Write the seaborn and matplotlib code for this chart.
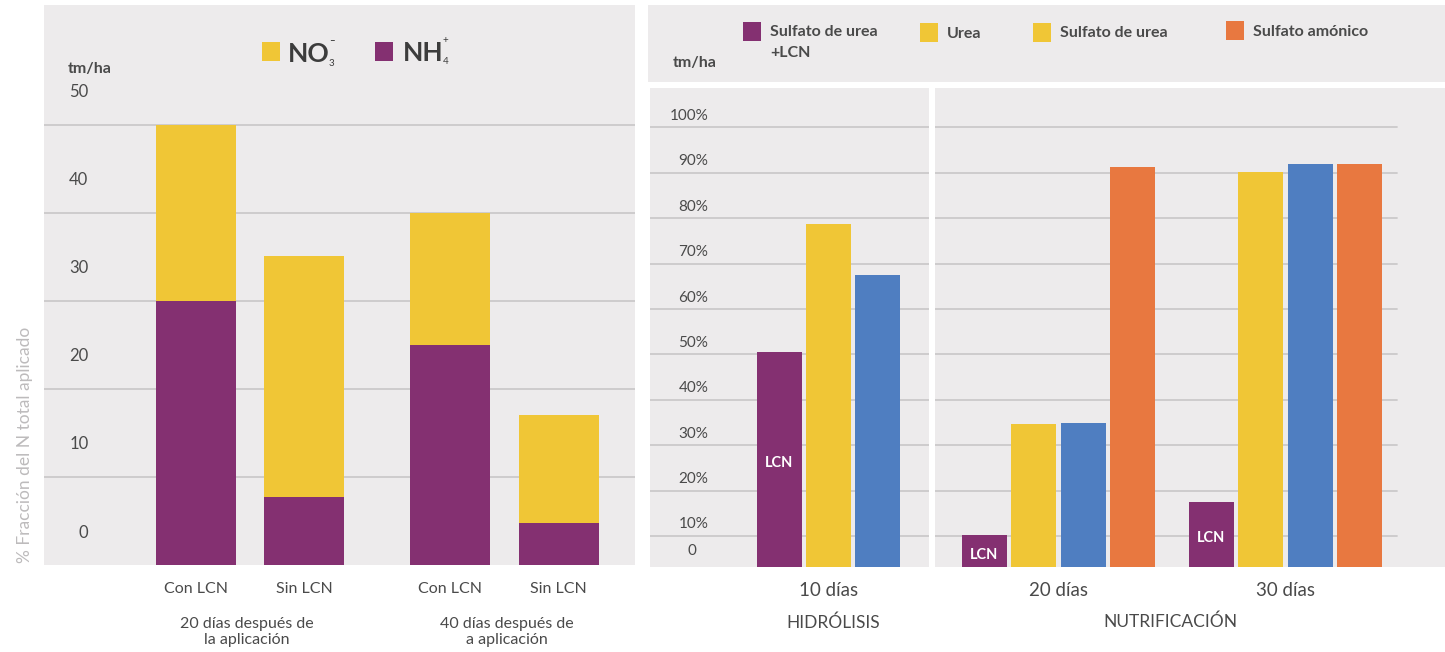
import numpy as np
import pandas as pd
import matplotlib.pyplot as plt
import seaborn as sb
from matplotlib.patches import Rectangle
from matplotlib.transforms import ScaledTranslation

# left chart: N fractions (tm/ha)
conditions = ["Con LCN", "Sin LCN", "Con LCN", "Sin LCN"]
positions = [0, 1, 2.35, 3.36]
nh4 = [30, 7.7, 25, 4.8]
no3 = [20, 27.4, 15, 12.2]
groupLabels = ["20 días después de\nla aplicación", "40 días después de\na aplicación"]
leftTicks = [0, 10, 20, 30, 40, 50]

# right chart: hydrolysis / nitrification (%)
products = ["Sulfato de urea +LCN", "Urea", "Sulfato de urea", "Sulfato amónico"]
legendNames = ["Sulfato de urea\n+LCN", "Urea", "Sulfato de urea", "Sulfato amónico"]
hydroDays = ["10 días"]
hydroValues = [50.5, 78.7, 67.5]
nitriDays = ["20 días", "30 días"]
nitri20 = [10.2, 34.7, 34.9, 91.3]
nitri30 = [17.5, 90.2, 91.9, 91.9]
pctTicks = [10, 20, 30, 40, 50, 60, 70, 80, 90, 100]

PURPLE = "#843071"
YELLOW = "#F0C636"
BLUE = "#4F7EC1"
ORANGE = "#E87840"
BG = "#EDEBEC"
GRID = "#CBC9CA"
TXT = "#4A4A4A"
palette = dict(zip(products, [PURPLE, YELLOW, BLUE, ORANGE]))
legendColors = [PURPLE, YELLOW, YELLOW, ORANGE]   # as printed in the original key

sb.set_theme(style="white")
plt.rcParams["font.family"] = ["Lato", "DejaVu Sans"]

W, H = 1445, 652
fig = plt.figure(figsize=(W / 100, H / 100), dpi=100)


def box(x0, y0, x1, y1):
  return [x0 / W, 1 - y1 / H, (x1 - x0) / W, (y1 - y0) / H]


def ftext(x, y, s, **kw):
  fig.text(x / W, 1 - y / H, s, **kw)


def swatch(x, y, color, w=18, h=19):
  fig.add_artist(Rectangle((x / W, 1 - (y + h) / H), w / W, h / H,
                           transform=fig.transFigure, facecolor=color, edgecolor="none"))


def styleAxis(ax, ticks, labels, dy, pad, size):
  ax.set_facecolor(BG)
  for s in ax.spines.values():
    s.set_visible(False)
  ax.set_yticks(ticks, labels)
  ax.tick_params(axis="y", length=0, pad=pad, labelsize=size, labelcolor=TXT)
  for lab in ax.get_yticklabels():
    lab.set_horizontalalignment("right")
    lab.set_transform(lab.get_transform() + ScaledTranslation(0, dy / 100, fig.dpi_scale_trans))
  ax.set_xlabel("")
  ax.set_ylabel("")


# ---- left panel ----
axL = fig.add_axes(box(44, 5, 635, 565))
dfLeft = pd.DataFrame({"pos": positions, "NH4": nh4, "total": np.add(nh4, no3)})
sb.barplot(data=dfLeft, x="pos", y="total", native_scale=True, width=0.74,
           color=YELLOW, saturation=1, linewidth=0, ax=axL)
sb.barplot(data=dfLeft, x="pos", y="NH4", native_scale=True, width=0.74,
           color=PURPLE, saturation=1, linewidth=0, ax=axL)
axL.set_xlim(-1.407, 4.065)
axL.set_ylim(0, 63.6)
for v in leftTicks[1:]:
  axL.axhline(v, color=GRID, lw=1.3, zorder=0)
styleAxis(axL, leftTicks, [str(v) for v in leftTicks], 34, -32, 12)
axL.set_xticks(positions, conditions)
axL.tick_params(axis="x", length=0, pad=12, labelsize=11.5, labelcolor=TXT)

ftext(247, 632, groupLabels[0], ha="center", va="center", fontsize=11.5, color=TXT)
ftext(507, 632, groupLabels[1], ha="center", va="center", fontsize=11.5, color=TXT)
ftext(90, 69, "tm/ha", ha="center", va="center", fontsize=11.5, fontweight="bold", color=TXT)
ftext(25, 445, "% Fracción del N total aplicado", ha="center", va="center",
      rotation=90, fontsize=12.5, color="#BDBBBC")

# ion key (charge above, index below, as in the print)
ION = "#3C3C3C"
swatch(262, 42, YELLOW)
ftext(288, 54, "NO", ha="left", va="center", fontsize=19, fontweight="bold", color=ION)
ftext(329, 41, "–", ha="left", va="center", fontsize=7, fontweight="bold", color=ION)
ftext(329, 63, "3", ha="left", va="center", fontsize=7, color=ION)
swatch(375, 42, PURPLE)
ftext(403, 53, "NH", ha="left", va="center", fontsize=19, fontweight="bold", color=ION)
ftext(442, 41, "+", ha="left", va="center", fontsize=7, color=ION)
ftext(443, 62, "4", ha="left", va="center", fontsize=7, color=ION)

# ---- right panels ----
fig.add_artist(Rectangle((648 / W, 1 - 82 / H), (W - 648) / W, 77 / H,
                         transform=fig.transFigure, facecolor=BG, edgecolor="none"))
ftext(695, 63, "tm/ha", ha="center", va="center", fontsize=11.5, fontweight="bold", color=TXT)
legendPos = [(743, 22, 34), (920, 23, 34), (1033, 23, 33), (1226, 21, 32)]
for (x, y, ty), name, col in zip(legendPos, legendNames, legendColors):
  swatch(x, y, col)
  va = "top" if "\n" in name else "center"
  ftext(x + 27, ty - 9 if va == "top" else ty, name, ha="left", va=va,
        fontsize=11.5, fontweight="bold", color=TXT, linespacing=1.6)

yLow, yHigh = 3.17, 108.7

ax1 = fig.add_axes(box(650, 88, 929, 567))
dfHydro = pd.DataFrame({"dia": hydroDays * 3, "producto": products[:3], "valor": hydroValues})
sb.barplot(data=dfHydro, x="dia", y="valor", hue="producto", hue_order=products[:3],
           palette=palette, width=0.648, gap=0.08, saturation=1, linewidth=0,
           legend=False, ax=ax1)
ax1.set_xlim(-0.786, 0.443)

ax2 = fig.add_axes(box(935, 88, 1445, 567))
dfNitri = pd.DataFrame({"dia": [nitriDays[0]] * 4 + [nitriDays[1]] * 4,
                        "producto": products * 2, "valor": nitri20 + nitri30})
sb.barplot(data=dfNitri, x="dia", y="valor", hue="producto", hue_order=products,
           palette=palette, width=0.872, gap=0.09, saturation=1, linewidth=0,
           legend=False, ax=ax2)
ax2.set_xlim(-0.544, 1.703)

for ax, xmax in [(ax1, 1.0), (ax2, 0.906)]:
  ax.set_ylim(yLow, yHigh)
  for v in pctTicks:
    ax.axhline(v, xmax=xmax, color=GRID, lw=1.3, zorder=0)
  ax.tick_params(axis="x", length=0, pad=11, labelsize=13.5, labelcolor=TXT)
  # white "LCN" tag in the purple bars
  for bar in ax.containers[0]:
    ax.text(bar.get_x() + bar.get_width() / 2, (yLow + bar.get_height()) / 2 - 0.8, "LCN",
            ha="center", va="center", color="white", fontsize=10.5, fontweight="bold")

styleAxis(ax1, pctTicks, [f"{v}%" for v in pctTicks], 13, -42, 11)
styleAxis(ax2, [], [], 0, 0, 11)
ftext(692, 551, "0", ha="center", va="center", fontsize=11, color=TXT)

ftext(833, 623, "HIDRÓLISIS", ha="center", va="center", fontsize=12.5, color=TXT)
ftext(1170, 622, "NUTRIFICACIÓN", ha="center", va="center", fontsize=12.5, color=TXT)

fig.savefig("out.png", dpi=100, facecolor="white")
